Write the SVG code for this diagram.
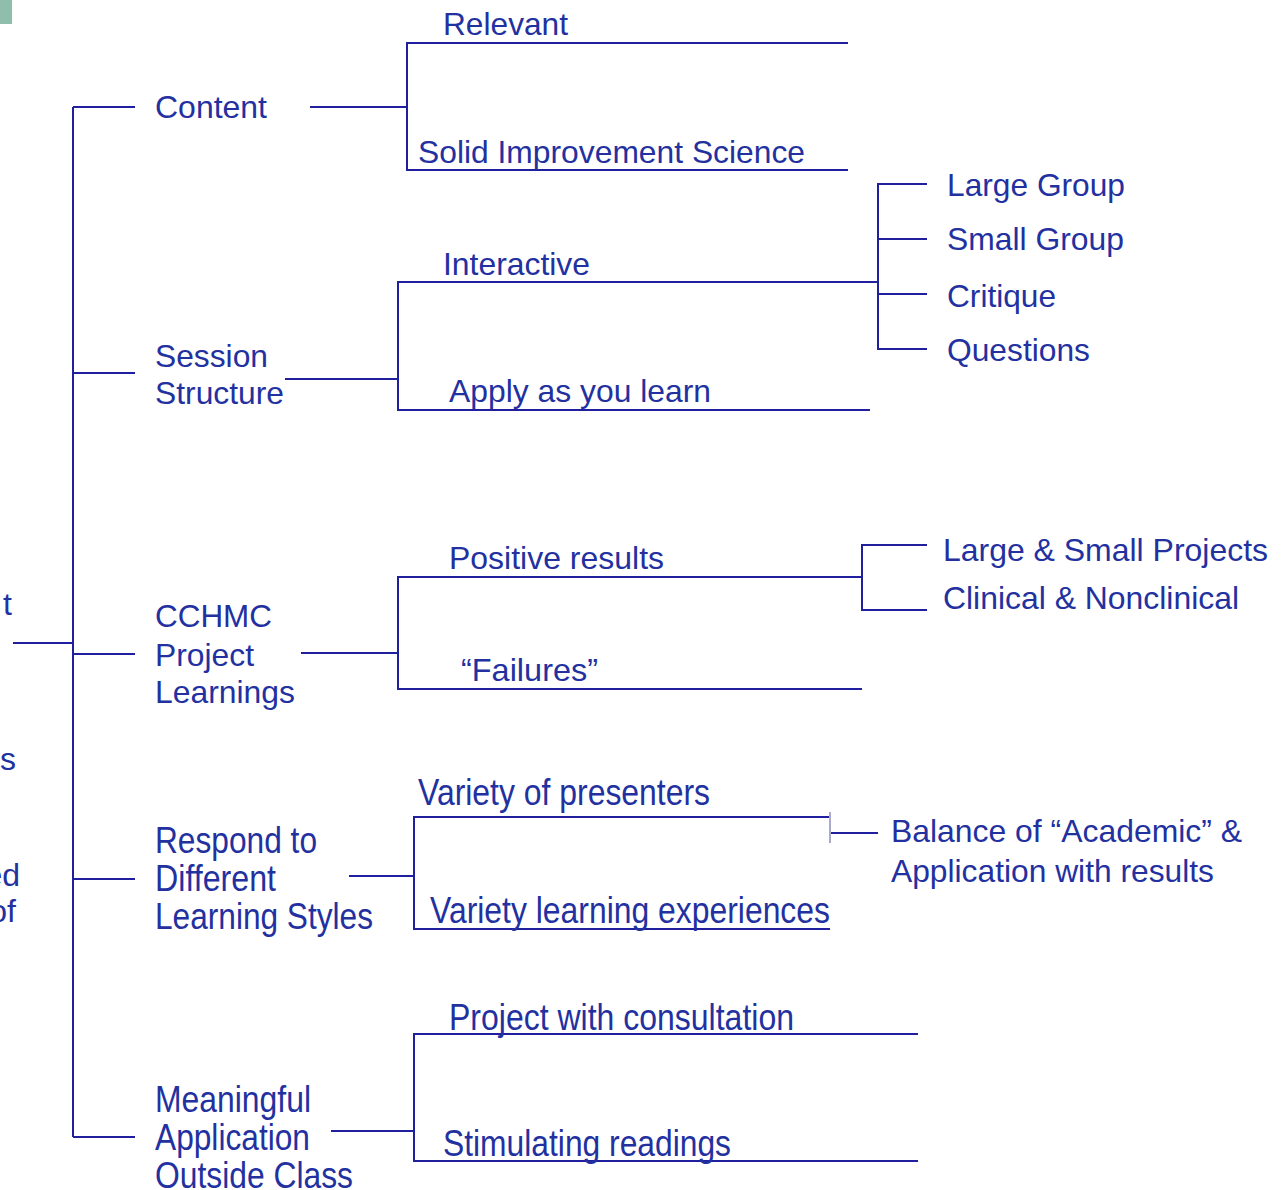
<svg xmlns="http://www.w3.org/2000/svg" width="1285" height="1190" viewBox="0 0 1285 1190">
<style>
.t{font-family:"Liberation Sans",Arial,sans-serif;font-size:32px;fill:#2331a0}
.c{font-family:"Liberation Sans",Arial,sans-serif;font-size:36px;fill:#2331a0}
.l{stroke:#1f1fa0;stroke-width:2;fill:none}
</style>
<rect width="1285" height="1190" fill="#ffffff"/>
<rect x="0" y="0" width="12" height="24" fill="#8fbfac"/>
<g id="cut-left">
<text class="t" x="12" y="615" text-anchor="end">t</text>
<text class="t" x="16" y="770" text-anchor="end">s</text>
<text class="t" x="20" y="886" text-anchor="end">ed</text>
<text class="t" x="16" y="922" text-anchor="end">of</text>
</g>
<g id="connectors">
<path class="l" d="M73 107V1137M73 107H135M73 373H135M73 654H135M73 879H135M73 1137H135M13 643H73"/>
<path class="l" d="M310 107H407M848 43H407V170H848"/>
<path class="l" d="M285 379H398M870 282H398V410H870"/>
<path class="l" d="M870 282H878M927 184H878V349H927M878 239H927M878 294H927"/>
<path class="l" d="M301 653H398M862 577H398V689H862"/>
<path class="l" d="M927 545H862V610H927"/>
<path class="l" d="M349 876H414M830 817H414V929H830"/>
<path d="M830 812V843" stroke="#a9aacb" stroke-width="2"/>
<path class="l" d="M831 833H878"/>
<path class="l" d="M331 1131H414M918 1034H414V1161H918"/>
</g>
<g id="content"><text class="t" x="155" y="118" textLength="112" lengthAdjust="spacingAndGlyphs">Content</text></g>
<g id="relevant"><text class="t" x="443" y="35" textLength="125" lengthAdjust="spacingAndGlyphs">Relevant</text></g>
<g id="solid"><text class="t" x="418" y="163" textLength="387" lengthAdjust="spacingAndGlyphs">Solid Improvement Science</text></g>
<g id="session"><text class="t" x="155" y="367" textLength="113" lengthAdjust="spacingAndGlyphs">Session</text><text class="t" x="155" y="404" textLength="129" lengthAdjust="spacingAndGlyphs">Structure</text></g>
<g id="interactive"><text class="t" x="443" y="275" textLength="147" lengthAdjust="spacingAndGlyphs">Interactive</text></g>
<g id="apply"><text class="t" x="449" y="402" textLength="262" lengthAdjust="spacingAndGlyphs">Apply as you learn</text></g>
<g id="large-group"><text class="t" x="947" y="196" textLength="178" lengthAdjust="spacingAndGlyphs">Large Group</text></g>
<g id="small-group"><text class="t" x="947" y="250" textLength="177" lengthAdjust="spacingAndGlyphs">Small Group</text></g>
<g id="critique"><text class="t" x="947" y="307" textLength="109" lengthAdjust="spacingAndGlyphs">Critique</text></g>
<g id="questions"><text class="t" x="947" y="361" textLength="143" lengthAdjust="spacingAndGlyphs">Questions</text></g>
<g id="cchmc"><text class="t" x="155" y="627" textLength="117" lengthAdjust="spacingAndGlyphs">CCHMC</text><text class="t" x="155" y="666" textLength="99" lengthAdjust="spacingAndGlyphs">Project</text><text class="t" x="155" y="703" textLength="140" lengthAdjust="spacingAndGlyphs">Learnings</text></g>
<g id="positive"><text class="t" x="449" y="569" textLength="215" lengthAdjust="spacingAndGlyphs">Positive results</text></g>
<g id="failures"><text class="t" x="461" y="681" textLength="137" lengthAdjust="spacingAndGlyphs">“Failures”</text></g>
<g id="large-small"><text class="t" x="943" y="561" textLength="325" lengthAdjust="spacingAndGlyphs">Large &amp; Small Projects</text></g>
<g id="clinical"><text class="t" x="943" y="609" textLength="296" lengthAdjust="spacingAndGlyphs">Clinical &amp; Nonclinical</text></g>
<g id="respond"><text class="c" x="155" y="853" textLength="162" lengthAdjust="spacingAndGlyphs">Respond to</text><text class="c" x="155" y="891" textLength="121" lengthAdjust="spacingAndGlyphs">Different</text><text class="c" x="155" y="929" textLength="218" lengthAdjust="spacingAndGlyphs">Learning Styles</text></g>
<g id="variety-presenters"><text class="c" x="418" y="805" textLength="292" lengthAdjust="spacingAndGlyphs">Variety of presenters</text></g>
<g id="variety-learning"><text class="c" x="430" y="923" textLength="400" lengthAdjust="spacingAndGlyphs">Variety learning experiences</text></g>
<g id="balance"><text class="t" x="891" y="842" textLength="351" lengthAdjust="spacingAndGlyphs">Balance of “Academic” &amp;</text><text class="t" x="891" y="882" textLength="323" lengthAdjust="spacingAndGlyphs">Application with results</text></g>
<g id="meaningful"><text class="c" x="155" y="1112" textLength="156" lengthAdjust="spacingAndGlyphs">Meaningful</text><text class="c" x="155" y="1150" textLength="155" lengthAdjust="spacingAndGlyphs">Application</text><text class="c" x="155" y="1188" textLength="198" lengthAdjust="spacingAndGlyphs">Outside Class</text></g>
<g id="project-consultation"><text class="c" x="449" y="1030" textLength="345" lengthAdjust="spacingAndGlyphs">Project with consultation</text></g>
<g id="stimulating"><text class="c" x="443" y="1156" textLength="288" lengthAdjust="spacingAndGlyphs">Stimulating readings</text></g>
</svg>
